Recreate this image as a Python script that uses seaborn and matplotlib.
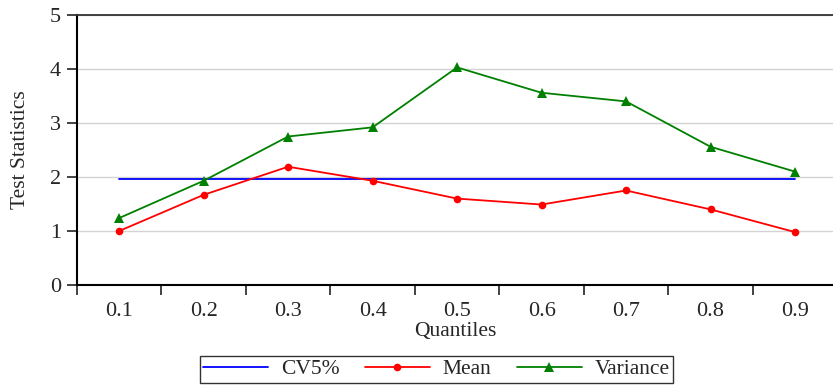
import matplotlib
matplotlib.use("Agg")
import matplotlib.pyplot as plt
import seaborn as sns
import pandas as pd
from matplotlib.ticker import FixedLocator

# --------- dados
quantiles = ["0.1", "0.2", "0.3", "0.4", "0.5", "0.6", "0.7", "0.8", "0.9"]
cv5 = [1.97] * 9
mean_stat = [1.00, 1.67, 2.19, 1.93, 1.60, 1.49, 1.75, 1.40, 0.98]
variance_stat = [1.24, 1.93, 2.75, 2.92, 4.03, 3.56, 3.40, 2.56, 2.10]

df = pd.DataFrame({
    "Quantiles": quantiles,
    "CV5%": cv5,
    "Mean": mean_stat,
    "Variance": variance_stat,
})

sns.set_style("white")
plt.rcParams["font.family"] = ["Liberation Serif", "DejaVu Serif"]

fig = plt.figure(figsize=(8.33, 3.88), dpi=100)
ax = fig.add_axes([0.0924, 0.2655, 0.9076, 0.6958])

sns.lineplot(data=df, x="Quantiles", y="CV5%", ax=ax, color="#0000ff",
             linewidth=1.3, label="CV5%", sort=False)
sns.lineplot(data=df, x="Quantiles", y="Mean", ax=ax, color="#ff0000",
             linewidth=1.3, marker="o", markersize=5.5, markeredgewidth=0,
             label="Mean", sort=False)
sns.lineplot(data=df, x="Quantiles", y="Variance", ax=ax, color="#008000",
             linewidth=1.3, marker="^", markersize=7, markeredgewidth=0,
             label="Variance", sort=False)

ax.set_xlim(-0.5, 8.45)
ax.set_ylim(0, 5)
ax.set_yticks([0, 1, 2, 3, 4, 5])
ax.yaxis.grid(True, color="#d3d3d3", linewidth=1)
ax.xaxis.grid(False)
ax.set_axisbelow(True)

# ticks nas fronteiras das categorias, rótulos sem marca
ax.xaxis.set_minor_locator(FixedLocator([i - 0.5 for i in range(10)]))
ax.tick_params(axis="x", which="major", length=0, labelsize=16, pad=12)
ax.tick_params(axis="x", which="minor", length=7.5, width=1.2, color="#222222",
               direction="out", bottom=True)
ax.tick_params(axis="y", which="major", length=7.5, width=1.2, color="#222222",
               direction="out", left=True, labelsize=16, pad=4)

ax.spines["right"].set_visible(False)
ax.spines["top"].set_color("#333333")
ax.spines["top"].set_linewidth(1.3)
for side in ["left", "bottom"]:
    ax.spines[side].set_color("black")
    ax.spines[side].set_linewidth(1.5)

ax.set_xlabel("Quantiles", fontsize=15.5, labelpad=1)
ax.set_ylabel("Test Statistics", fontsize=15.5, labelpad=14)

ax.get_legend().remove()
handles, labels = ax.get_legend_handles_labels()
leg = fig.legend(handles, labels, loc="upper center", ncol=3,
                 bbox_to_anchor=(0.524, 0.082), borderaxespad=0,
                 fontsize=15.5, frameon=True, fancybox=False,
                 edgecolor="black", handlelength=3.0, handletextpad=0.6,
                 columnspacing=1.2, borderpad=0.15)
leg.get_frame().set_linewidth(1.0)

plt.savefig("out.png", dpi=100)
